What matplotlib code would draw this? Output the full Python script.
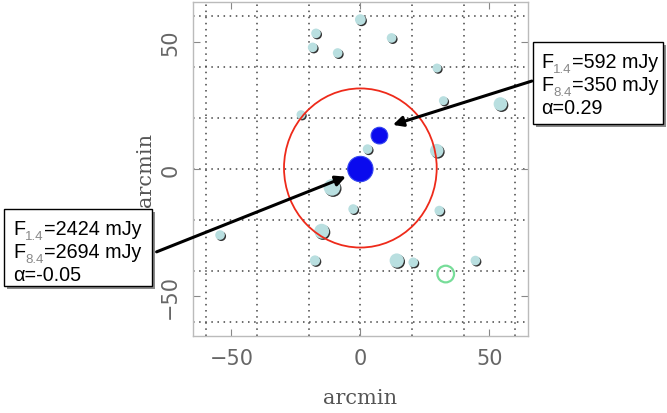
import matplotlib
matplotlib.use("Agg")
import matplotlib.pyplot as plt
from matplotlib.patches import Ellipse, Rectangle
from matplotlib.text import Annotation
from matplotlib.transforms import offset_copy

# field sources (arcmin offsets) and marker areas
field_x = [0.0, -17.2, -18.5, -8.8, 12.1, 29.7, 32.2, 54.3, -23.0, 2.8, 29.6,
           -11.0, -2.8, 30.6, -15.0, -54.4, -17.6, 14.1, 20.5, 44.6]
field_y = [58.6, 53.2, 47.7, 45.5, 51.4, 39.6, 26.8, 25.5, 21.3, 7.8, 7.2,
           -7.2, -15.7, -16.3, -24.4, -25.9, -35.9, -35.9, -36.6, -35.9]
field_s = [60, 48, 48, 48, 48, 42, 42, 95, 42, 48, 95,
           144, 48, 48, 115, 48, 55, 105, 48, 48]

# bright targets
target_x = [0.0, 7.4]
target_y = [0.0, 13.1]
target_s = [333, 144]

ring_x, ring_y, ring_s = [33.1], [-41.2], [144]

beam_center = (0.0, 0.4)
beam_w, beam_h = 59.2, 62.4

grid_vals = [-60, -40, -20, 0, 20, 40, 60]
ticks = [-50, 0, 50]

labels = {
    "left": [("F", "1.4", "=2424 mJy"), ("F", "8.4", "=2694 mJy"), ("α=-0.05", None, None)],
    "right": [("F", "1.4", "=592 mJy"), ("F", "8.4", "=350 mJy"), ("α=0.29", None, None)],
}

W, H = 667, 414
fig = plt.figure(figsize=(W / 100, H / 100), dpi=100)
ax = fig.add_axes([192.7 / W, 1 - 337 / H, (528 - 192.7) / W, (337 - 3) / H])
ax.set_xlim(-65, 65)
ax.set_ylim(-65.5, 65.5)

for v in grid_vals:
    ax.axvline(v, color="#444444", lw=1.1, ls=(0, (1, 3)), zorder=0)
    ax.axhline(v, color="#444444", lw=1.1, ls=(0, (1, 3)), zorder=0)

shadow = offset_copy(ax.transData, fig=fig, x=1.2, y=-1.2, units="dots")
ax.scatter(field_x, field_y, s=field_s, color="#333333", lw=0, transform=shadow, zorder=2)
ax.scatter(field_x, field_y, s=field_s, color="#b9dfe0", lw=0, zorder=3)
ax.add_patch(Ellipse(beam_center, beam_w, beam_h, fill=False, ec="#ee2a1a", lw=1.3, zorder=4))
ax.scatter(ring_x, ring_y, s=ring_s, facecolor="none", edgecolor="#77dd99", lw=1.6, zorder=4)
ax.scatter(target_x, target_y, s=target_s, color="#0a0aee", ec="#3344ee", lw=0.8, zorder=5)

ax.set_xticks(ticks)
ax.set_yticks(ticks)
ax.set_xticklabels(["\u221250", "0", "50"])
ax.set_yticklabels(["\u221250", "0", "50"], rotation=90, va="center")
ax.tick_params(direction="in", length=5, width=0.8, color="#888888", top=True, right=True,
               labelsize=15, labelcolor="#666666", pad=9)
for sp in ax.spines.values():
    sp.set_color("#bbbbbb")
    sp.set_linewidth(1.0)
ax.set_xlabel("arcmin", family="DejaVu Serif", fontsize=15, color="#555555", labelpad=14)
ax.set_ylabel("arcmin", family="DejaVu Serif", fontsize=15, color="#555555", labelpad=4)

arrow = dict(arrowstyle="-|>,head_length=0.6,head_width=0.3", color="black", lw=2.2,
             shrinkA=0, shrinkB=0)
for tip, tail in [((-5.6, -3.0), (-79, -32.5)), ((12.6, 17.3), (66.5, 34.5))]:
    fig.add_artist(Annotation("", xy=tip, xytext=tail, xycoords=ax.transData,
                              arrowprops=arrow, annotation_clip=False, zorder=6))


def fx(px):
    return px / W


def fy(py):
    return 1 - py / H


def box(x0, y0, x1, y1):
    fig.patches.append(Rectangle((fx(x0 + 3), fy(y1 + 3)), fx(x1 - x0), (y1 - y0) / H,
                                 transform=fig.transFigure, fc="#8a8a8a", ec="none", zorder=7))
    fig.patches.append(Rectangle((fx(x0), fy(y1)), fx(x1 - x0), (y1 - y0) / H,
                                 transform=fig.transFigure, fc="white", ec="black", lw=1.0, zorder=8))


def lines(x, y0, rows, dy=23):
    for i, (main, sub, rest) in enumerate(rows):
        t = fig.text(fx(x), fy(y0 + i * dy), main, fontsize=14.2, family="Liberation Sans",
                     va="baseline", zorder=9)
        if sub is None:
            continue
        s = Annotation(sub, xy=(1, 0), xycoords=t, xytext=(0.3, -0.5), textcoords="offset points",
                       fontsize=9.5, family="Liberation Sans", color="#888888", va="baseline",
                       annotation_clip=False, zorder=9)
        fig.add_artist(s)
        fig.add_artist(Annotation(rest, xy=(1, 0), xycoords=(s, t), fontsize=14.2,
                                  family="Liberation Sans", va="bottom",
                                  annotation_clip=False, zorder=9))


box(4, 210, 152, 287)
box(533, 43, 663, 125)
lines(13, 235, labels["left"])
lines(541, 68, labels["right"])

fig.savefig("out.png", dpi=100)
